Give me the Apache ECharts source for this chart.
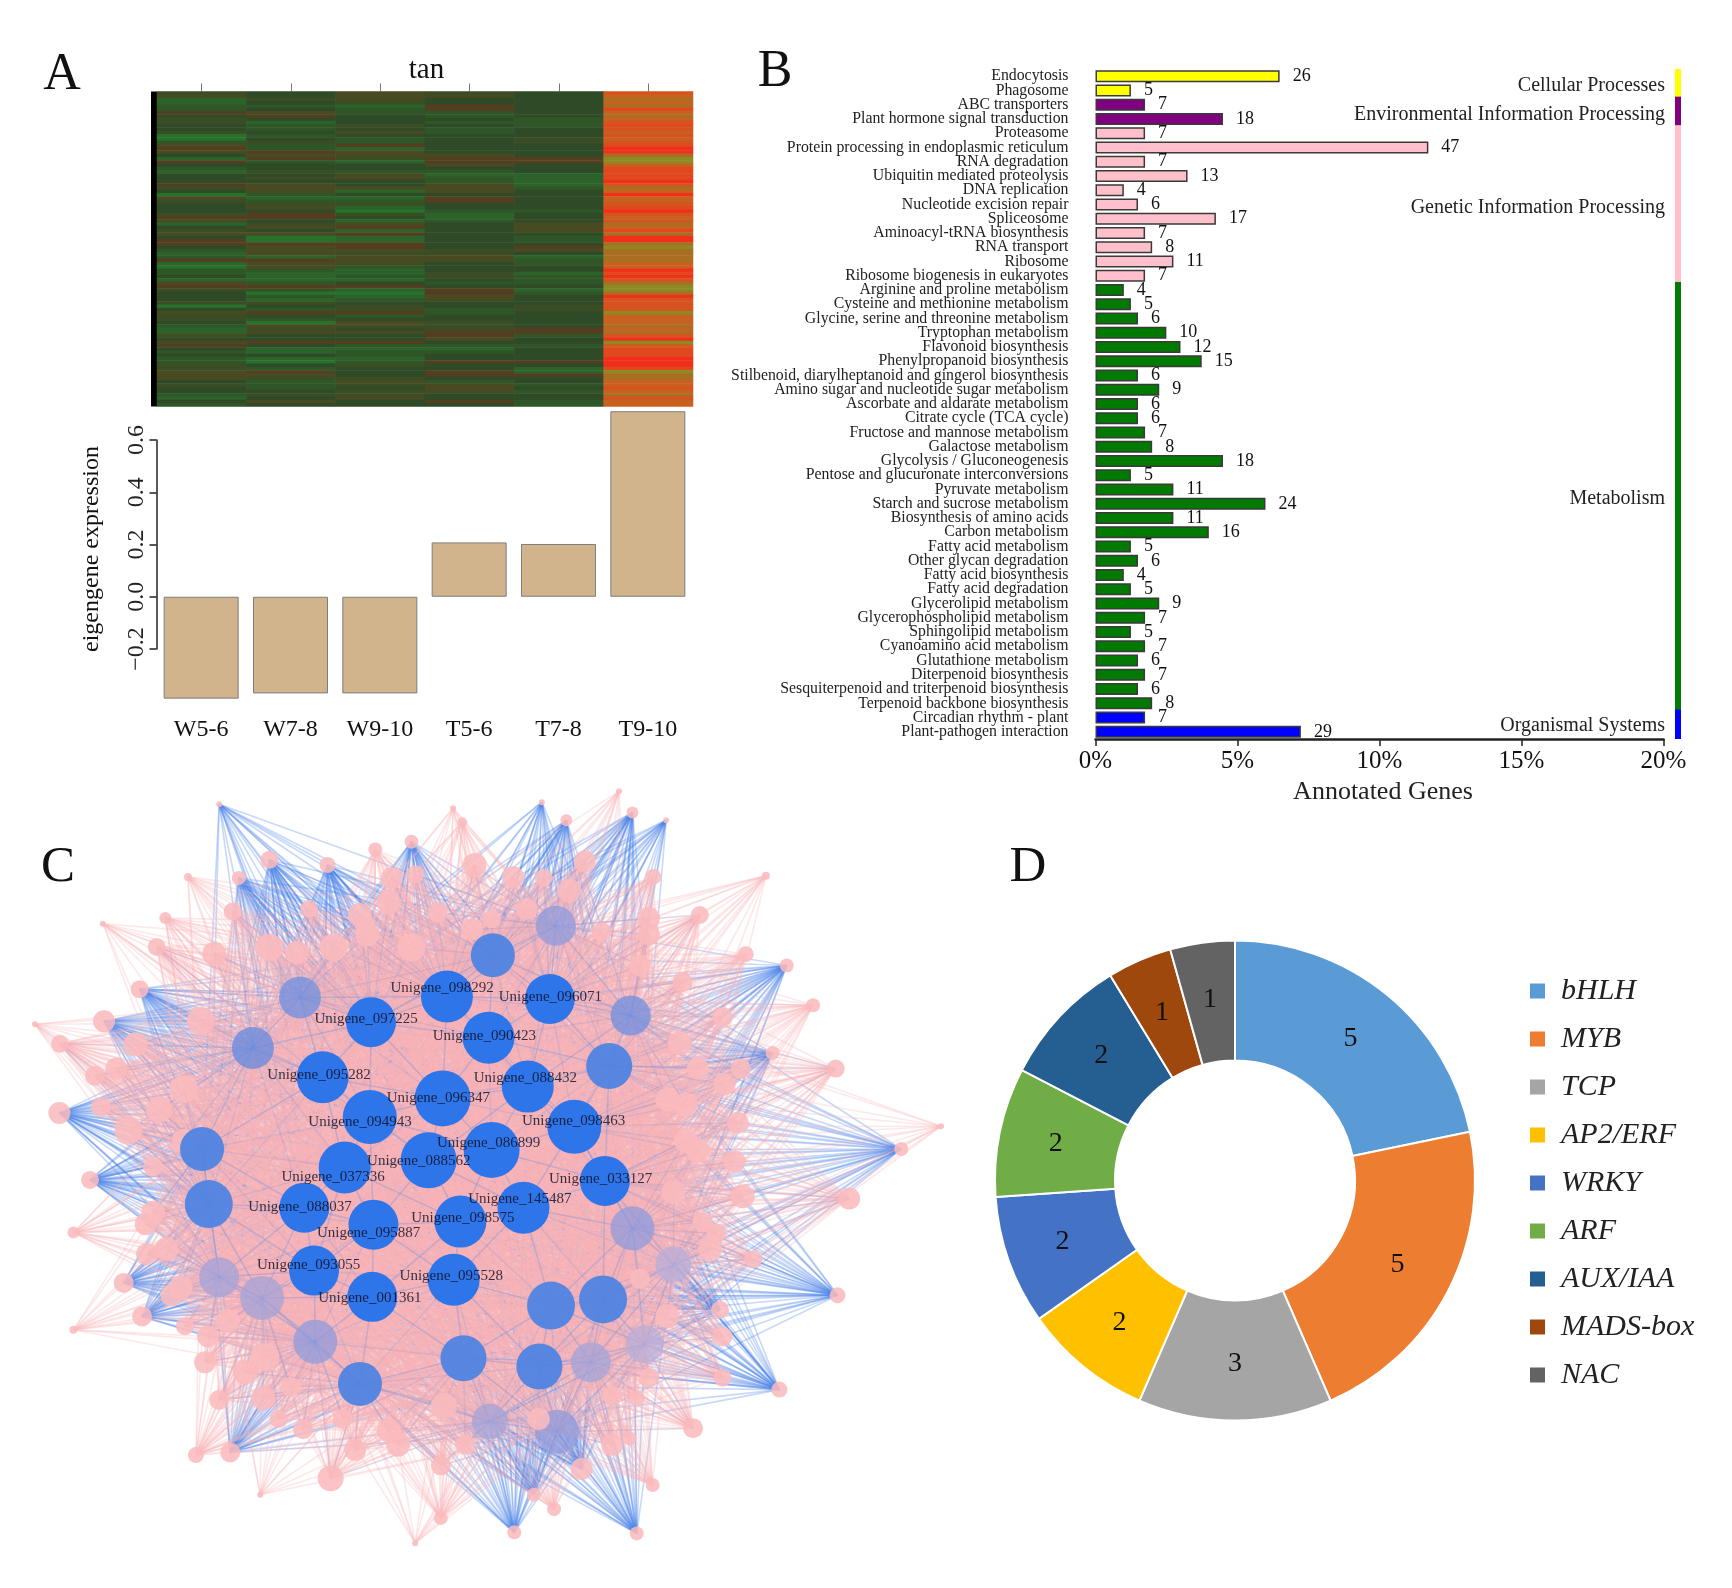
<!DOCTYPE html>
<html><head><meta charset="utf-8">
<style>html,body{margin:0;padding:0;background:#fff}#c{width:1732px;height:1588px}</style>
<script src="https://cdn.jsdelivr.net/npm/echarts@6/dist/echarts.min.js"></script>
</head><body><div id="c"></div>
<script>
const SERIF = '"Liberation Serif","Times New Roman",serif';

/* ---------- Panel A ---------- */
const sampleNames = ['W5-6','W7-8','W9-10','T5-6','T7-8','T9-10'];
const eigengene = [-0.39,-0.37,-0.37,0.208,0.202,0.71];
/* one string per gene row; one hex digit per sample: 0 = green ... 6 = brown ... c = red */
const heatRows = [
'43543a','535539','145338','134339','221638','23263b','652239','363238','433329','41322a','32432b','32323a','435239','02333a','032349','24234a','52633b','62133c','56533c','355538','164667','621667','333539','23333b','14223b','33511b','34521b','33321c','65351a','455528','351539','02333c',
'511639','422639','34433a','35133b','33022c','46413a','663139','53123a','145358','356359','43135b','556338','30132c','60132c','666338','356367','255458','154438','215518','665528','155329','052339','22133c','21141b','31242c','11132a','523228','666337','441617','300628','32153c','31253a',
'44333a','03434a','32424a','566237','432339','423339','305439','255438','143469','155668','53362a','33353c','566337','632229','31113b','21223b','33233b','21133c','20266c','43433c','42331b','563617','553668','544338','325239','424529','32353a','334529','244338','13533a','353629','233329'
];
const heatScale = ['#26722b','#2b632b','#2e5627','#2f4a26','#3b4d24','#484a22','#533f20','#8c8a22','#a86f22','#c8601f','#d6521f','#e0481e','#f0301a'];

/* ---------- Panel B ---------- */
const pathways = ['Endocytosis','Phagosome','ABC transporters','Plant hormone signal transduction','Proteasome','Protein processing in endoplasmic reticulum','RNA degradation','Ubiquitin mediated proteolysis','DNA replication','Nucleotide excision repair','Spliceosome','Aminoacyl-tRNA biosynthesis','RNA transport','Ribosome','Ribosome biogenesis in eukaryotes','Arginine and proline metabolism','Cysteine and methionine metabolism','Glycine, serine and threonine metabolism','Tryptophan metabolism','Flavonoid biosynthesis','Phenylpropanoid biosynthesis','Stilbenoid, diarylheptanoid and gingerol biosynthesis','Amino sugar and nucleotide sugar metabolism','Ascorbate and aldarate metabolism','Citrate cycle (TCA cycle)','Fructose and mannose metabolism','Galactose metabolism','Glycolysis / Gluconeogenesis','Pentose and glucuronate interconversions','Pyruvate metabolism','Starch and sucrose metabolism','Biosynthesis of amino acids','Carbon metabolism','Fatty acid metabolism','Other glycan degradation','Fatty acid biosynthesis','Fatty acid degradation','Glycerolipid metabolism','Glycerophospholipid metabolism','Sphingolipid metabolism','Cyanoamino acid metabolism','Glutathione metabolism','Diterpenoid biosynthesis','Sesquiterpenoid and triterpenoid biosynthesis','Terpenoid backbone biosynthesis','Circadian rhythm - plant','Plant-pathogen interaction'];
const geneCounts = [26,5,7,18,7,47,7,13,4,6,17,7,8,11,7,4,5,6,10,12,15,6,9,6,6,7,8,18,5,11,24,11,16,5,6,4,5,9,7,5,7,6,7,6,8,7,29];
const totalGenes = 401;
const groupSizes = [2,2,11,30,2];
const groupNames = ['Cellular Processes','Environmental Information Processing','Genetic Information Processing','Metabolism','Organismal Systems'];
const groupColors = ['#ffff00','#800080','#ffc0cb','#007a00','#0000ff'];
const pathwayColors = groupSizes.flatMap((n,i)=>Array(n).fill(groupColors[i]));

/* ---------- Panel C (units: picture units 0-1568 in both directions) ---------- */
const coreHubs = [
['Unigene_098292',730,420,26,722,403],['Unigene_096071',898,425,25,899,421],['Unigene_097225',606,470,25,598,463],
['Unigene_090423',798,500,26,791,497],['Unigene_095282',527,577,26,521,572],['Unigene_088432',862,595,26,858,578],
['Unigene_096347',723,618,28,716,618],['Unigene_094943',604,654,27,588,663],['Unigene_098463',938,673,27,937,662],
['Unigene_086899',803,718,28,798,705],['Unigene_088562',700,738,28,684,739],['Unigene_037336',563,752,26,544,770],
['Unigene_033127',988,778,25,981,775],['Unigene_088037',497,830,25,490,829],['Unigene_145487',855,830,26,849,814],
['Unigene_098575',752,857,26,756,851],['Unigene_095887',610,863,25,602,879],['Unigene_093055',513,952,25,504,941],
['Unigene_095528',741,970,26,737,962],['Unigene_001361',608,1003,25,604,1005]];
const midHubs = [[805,340,22],[995,555,23],[330,716,22],[341,823,24],[900,1020,24],[985,1008,24],[757,1122,23],[881,1138,23],[588,1172,22]];
const paleHubs = [[490,422,21,'#6d8fe0'],[413,520,21,'#6389e0'],[1030,457,20,'#6d8fe0'],[908,283,20,'#8f9bdc'],[1033,870,22,'#8f9bdc'],[965,1130,20,'#a3a3d8'],[1053,1095,19,'#b8aed8'],[910,1265,22,'#8f9bdc'],[800,1245,18,'#a3a3d8'],[515,1090,22,'#8f9bdc'],[428,1005,22,'#a3a3d8'],[358,965,20,'#a3a3d8'],[1100,940,18,'#b8aed8']];
/* x, y, radius, 1 = this node's edges are strong (blue) */
const outerNodes = [
[358,47,3,1],[740,55,3,0],[885,43,3,1],[1011,22,3,0],[1088,78,3,1],[1251,186,4,0],[168,279,3,0],[307,188,4,0],[57,474,3,0],[1537,672,3,0],[120,1067,4,0],[425,1387,3,0],[678,1481,3,0],
[440,155,9,1],[535,165,8,1],[613,135,7,0],[672,120,7,1],[755,82,5,0],[925,78,6,1],[1033,63,6,1],[775,165,12,0],[838,188,11,0],[888,190,9,0],[955,158,11,0],[1067,188,8,0],[1143,262,9,0],[1060,268,11,0],[1218,338,8,0],[1285,360,7,1],[1328,437,7,0],[1262,530,7,1],[1365,560,9,0],[1472,716,7,1],[1387,812,11,0],[1368,1000,8,1],[1273,1183,8,1],[1180,1160,9,0],[1176,1028,9,1],[1160,910,12,0],[1147,858,10,0],[1213,808,12,0],[1132,1258,10,0],[1028,1278,7,0],[1066,1368,7,0],[1040,1462,7,1],[905,1415,7,0],[872,1387,7,1],[840,1460,7,1],[720,1432,7,0],[720,1330,10,0],[950,1337,11,1],[540,1355,13,0],[376,1305,10,1],[320,1310,8,0],[358,1203,10,0],[335,1130,11,0],[433,1120,14,0],[232,1041,10,1],[202,976,10,1],[295,985,12,0],[372,1050,12,0],[302,1060,9,0],[120,878,6,0],[147,776,9,1],[272,910,12,0],[238,862,11,0],[97,646,11,1],[155,574,10,0],[222,513,12,0],[98,512,9,0],[170,468,11,1],[328,468,14,0],[228,406,9,1],[256,324,9,0],[270,268,6,0],[350,337,12,0],[380,255,9,0],[390,190,7,1],[440,325,14,0],[505,250,9,0],[545,325,14,0],[588,262,12,0],[635,238,12,0],[678,183,9,0],[715,257,10,0],[803,270,9,0],[672,325,14,0],[983,295,10,0],[1045,360,11,0],[1115,392,10,0],[1180,460,10,0],[1183,590,11,0],[1205,665,11,0],[725,1215,13,0],[635,1262,12,0],[560,1240,10,0],[495,1260,10,0],[455,1240,9,0],[475,1178,10,0],[1000,1195,10,0],[1040,1200,8,0],[1060,1160,10,0],[1045,968,10,0],[300,600,14,0],[210,680,14,0],[250,750,10,0],[165,635,10,0],[190,560,11,0],[1120,630,12,0],[1140,720,12,0],[1100,800,12,0],
[260,640,13,0],[300,700,12,0],[250,840,12,0],[1110,510,12,0],[1140,560,11,0],[1060,300,11,0],[930,215,12,0],[640,190,11,0],[485,335,12,0],[770,290,11,0],[1090,1040,12,0],[1170,880,10,0],[1000,1290,11,0],[650,1290,12,0],[580,1300,11,0],[430,1200,12,0],[400,1150,12,0],[280,1000,11,0],[240,920,11,0],[1120,700,12,0],[1200,740,11,0],[1090,620,12,0],[880,1240,11,0],[760,1290,10,0],[1180,1080,10,0],[1230,930,9,0],[1210,560,10,0],[340,1080,11,0],[600,300,12,0],[860,250,11,0]];

/* ---------- Panel D ---------- */
const tfFamilies = ['bHLH','MYB','TCP','AP2/ERF','WRKY','ARF','AUX/IAA','MADS-box','NAC'];
const tfCounts = [5,5,3,2,2,2,2,1,1];
const tfColors = ['#5B9BD5','#ED7D31','#A5A5A5','#FFC000','#4472C4','#70AD47','#255E91','#9E480E','#636363'];

/* ---------- derived tables ---------- */
const heatData = [];
heatRows.forEach((row,r)=>{ for(let c=0;c<6;c++) heatData.push([c,r,parseInt(row[c],16)]); });
const rowIndex = heatRows.map((_,i)=>String(i));
const hubPts = coreHubs.map(h=>[h[1],h[2]]).concat(midHubs.map(h=>[h[0],h[1]]),paleHubs.map(h=>[h[0],h[1]]));
const blueLinks=[], pinkLinks=[], faintBlue=[];
outerNodes.forEach(n=>{
  const near = hubPts.slice().sort((a,b)=>Math.hypot(a[0]-n[0],a[1]-n[1])-Math.hypot(b[0]-n[0],b[1]-n[1]));
  const deg = Math.min(hubPts.length, Math.round(n[2]*4.5)+(n[3]?8:0));
  near.slice(0,deg).forEach(h=>{ (n[3]?blueLinks:pinkLinks).push({coords:[[n[0],n[1]],h]}); });
  if(!n[3] && n[2]>=9) near.slice(0,3).forEach(h=>faintBlue.push({coords:[[n[0],n[1]],h]}));
});
hubPts.forEach(h=>{
  const near = hubPts.slice().sort((a,b)=>Math.hypot(a[0]-h[0],a[1]-h[1])-Math.hypot(b[0]-h[0],b[1]-h[1]));
  near.slice(1,9).forEach(p=>faintBlue.push({coords:[h,p]}));
});

const txt = (text,x,y,size,extra={})=>({type:'text',x,y,silent:true,style:Object.assign({text,fontFamily:SERIF,fontSize:size,fill:'#111',textAlign:'center',textVerticalAlign:'middle'},extra)});

const option = {
  animation:false, backgroundColor:'#fff',
  grid:[
    {left:157,top:91.5,width:536,height:315,show:false},              //0 heat
    {left:151,top:91.5,width:6,height:315,show:true,backgroundColor:'#000',borderWidth:0}, //1 black strip
    {left:156.5,top:440,width:536,height:209},                        //2 eigengene bars
    {left:1095.5,top:69,width:568,height:670},                        //3 KEGG bars
    {left:1675,top:69,width:6,height:670},                            //4 group strip
    {left:0,top:780,width:960,height:808}                             //5 network
  ],
  xAxis:[
    {gridIndex:0,type:'category',position:'top',data:sampleNames,axisLine:{show:false},axisLabel:{show:false},axisTick:{show:true,alignWithLabel:true,length:8,lineStyle:{color:'#777',width:1}},splitLine:{show:false}},
    {gridIndex:1,type:'value',show:false},
    {gridIndex:2,type:'category',data:sampleNames,position:'bottom',axisLine:{show:false,onZero:false},axisTick:{show:false},
      axisLabel:{margin:69,interval:0,fontFamily:SERIF,fontSize:24,color:'#111'}},
    {gridIndex:3,type:'value',min:0,max:20,interval:5,axisLine:{show:true,lineStyle:{color:'#222',width:2.5}},axisTick:{show:true,length:7,lineStyle:{color:'#222',width:1.5}},splitLine:{show:false},
      axisLabel:{formatter:'{value}%',margin:10,fontFamily:SERIF,fontSize:25,color:'#111'}},
    {gridIndex:4,type:'value',min:0,max:1,show:false},
    {gridIndex:5,type:'value',min:0,max:1568,show:false}
  ],
  yAxis:[
    {gridIndex:0,type:'category',inverse:true,data:rowIndex,show:false},
    {gridIndex:1,type:'value',show:false},
    {gridIndex:2,type:'value',min:-0.2,max:0.6,interval:0.2,axisLine:{show:true,lineStyle:{color:'#222',width:1.5}},axisTick:{show:true,length:7,lineStyle:{color:'#222',width:1.5}},splitLine:{show:false},
      axisLabel:{rotate:90,margin:8,fontFamily:SERIF,fontSize:24,color:'#222',formatter:v=>(v<0?'\u2212':'')+Math.abs(v).toFixed(1)}},
    {gridIndex:3,type:'category',inverse:true,data:pathways,axisLine:{show:false},axisTick:{show:false},
      axisLabel:{interval:0,margin:27,fontFamily:SERIF,fontSize:15.8,color:'#222'}},
    {gridIndex:4,type:'category',inverse:true,data:pathways,show:false},
    {gridIndex:5,type:'value',inverse:true,min:0,max:1568,show:false}
  ],
  visualMap:[{type:'continuous',show:false,seriesIndex:0,min:0,max:12,inRange:{color:heatScale}}],
  legend:{orient:'vertical',left:1523,top:971,itemWidth:17,itemHeight:17,itemGap:18,selectedMode:false,icon:'rect',data:tfFamilies,
    textStyle:{fontFamily:SERIF,fontStyle:'italic',fontSize:30,color:'#222',padding:[0,0,0,10]}},
  series:[
    {type:'heatmap',xAxisIndex:0,yAxisIndex:0,data:heatData,itemStyle:{borderWidth:0},progressive:0},
    {type:'bar',xAxisIndex:2,yAxisIndex:2,data:eigengene,barWidth:75,clip:false,itemStyle:{color:'#D2B48C',borderColor:'#7d7d7d',borderWidth:1}},
    {type:'bar',xAxisIndex:3,yAxisIndex:3,barWidth:12,
      data:geneCounts.map((n,i)=>({value:n/totalGenes*100,itemStyle:{color:pathwayColors[i]}})),
      itemStyle:{borderColor:'#3a3a3a',borderWidth:1.5},
      label:{show:true,position:'right',distance:13,fontFamily:SERIF,fontSize:18,color:'#111',formatter:p=>geneCounts[p.dataIndex]}},
    {type:'bar',xAxisIndex:4,yAxisIndex:4,barWidth:16,clip:true,data:pathwayColors.map(c=>({value:1,itemStyle:{color:c}}))},
    {type:'lines',coordinateSystem:'cartesian2d',xAxisIndex:5,yAxisIndex:5,polyline:false,progressive:0,data:blueLinks,lineStyle:{color:'#4a80e8',width:1.6,opacity:0.3,curveness:0}},
    {type:'lines',coordinateSystem:'cartesian2d',xAxisIndex:5,yAxisIndex:5,polyline:false,progressive:0,data:pinkLinks,lineStyle:{color:'#f8b4b6',width:1.6,opacity:0.3,curveness:0}},
    {type:'lines',coordinateSystem:'cartesian2d',xAxisIndex:5,yAxisIndex:5,polyline:false,progressive:0,data:faintBlue,lineStyle:{color:'#6f93e2',width:1.4,opacity:0.2,curveness:0}},
    {type:'scatter',xAxisIndex:5,yAxisIndex:5,data:paleHubs.map(h=>({value:h,itemStyle:{color:h[3]}})),symbolSize:v=>v[2]*2,encode:{x:0,y:1},itemStyle:{opacity:0.75}},
    {type:'scatter',xAxisIndex:5,yAxisIndex:5,data:outerNodes,symbolSize:v=>v[2]*2,encode:{x:0,y:1},itemStyle:{color:'#fabbbd',opacity:0.88}},
    {type:'scatter',xAxisIndex:5,yAxisIndex:5,data:midHubs,symbolSize:v=>v[2]*2,encode:{x:0,y:1},itemStyle:{color:'#4f84e2',opacity:0.95}},
    {type:'scatter',xAxisIndex:5,yAxisIndex:5,data:coreHubs.map(h=>[h[1],h[2],h[3]]),symbolSize:v=>v[2]*2,encode:{x:0,y:1},itemStyle:{color:'#2f75ea',opacity:1}},
    {type:'scatter',xAxisIndex:5,yAxisIndex:5,data:coreHubs.map(h=>({name:h[0],value:[h[4],h[5]]})),symbolSize:0,z:5,
      label:{show:true,position:'inside',fontFamily:SERIF,fontSize:15,color:'#0b0b1a',formatter:p=>p.name}},
    {type:'pie',center:[1235,1180.5],radius:[120,240],startAngle:90,clockwise:true,
      data:tfFamilies.map((name,i)=>({name,value:tfCounts[i],itemStyle:{color:tfColors[i]}})),
      itemStyle:{borderColor:'#fff',borderWidth:2},
      label:{show:true,position:'inside',formatter:'{c}',fontFamily:SERIF,fontSize:28,color:'#111'},labelLine:{show:false}}
  ],
  graphic:[
    txt('A',62,75,52), txt('B',775,72,52), txt('C',58,868,51), txt('D',1028,868,51),
    txt('tan',426.5,70,29),
    Object.assign(txt('eigengene expression',0,0,24),{x:92,y:549,rotation:Math.PI/2}),
    txt('Annotated Genes',1383,792,26,{fill:'#222'}),
    ...[[86],[115],[207.7],[499],[726]].map((p,i)=>txt(groupNames[i],1665,p[0],20,{textAlign:'right',fill:'#222'}))
  ]
};
echarts.init(document.getElementById('c'),null,{renderer:'canvas'}).setOption(option);
</script></body></html>
